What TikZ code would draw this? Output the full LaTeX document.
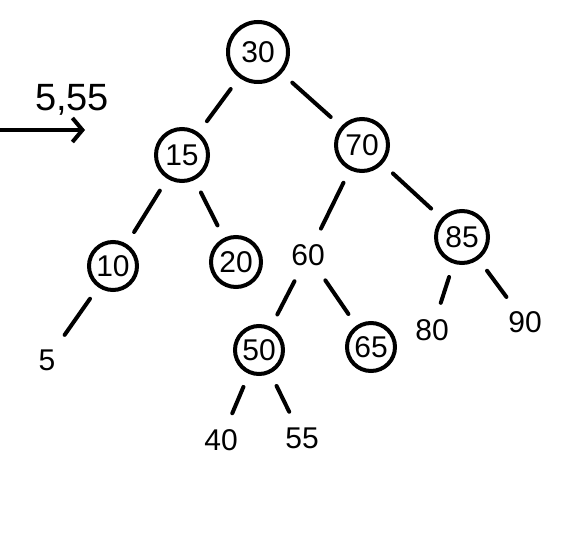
\documentclass[tikz,border=0pt]{standalone}
\usepackage{fontspec}
\setmainfont{Liberation Sans}
\usetikzlibrary{arrows.meta}
\begin{document}
\begin{tikzpicture}[x=1pt,y=-1pt,
  blk/.style={circle,draw,line width=4pt,minimum size=52pt,inner sep=0pt,font=\fontsize{30}{30}\selectfont},
  red/.style={inner sep=3pt,font=\fontsize{30}{30}\selectfont},
  edge/.style={line width=4pt,line cap=round,shorten <=14pt,shorten >=14pt}]
\useasboundingbox (0,0) rectangle (585,537);
\node[blk,minimum size=60pt] (n30) at (258,52) {30};
\node[blk] (n15) at (182,155) {15};
\node[blk] (n70) at (362,145) {70};
\node[blk,minimum size=48pt] (n10) at (113,266) {10};
\node[blk,minimum size=50pt] (n20) at (236,262) {20};
\node[red] (n60) at (308,255) {60};
\node[blk] (n85) at (462,237) {85};
\node[blk,minimum size=48pt] (n50) at (259,350) {50};
\node[blk,minimum size=48pt] (n65) at (371,347) {65};
\node[red] (n80) at (432,330) {80};
\node[red] (n90) at (525,322) {90};
\node[red] (n5) at (47,360) {5};
\node[red] (n40) at (221,440) {40};
\node[red] (n55) at (302,438) {55};
\node[font=\fontsize{38}{38}\selectfont] (ins) at (72,100) {5,55};
\coordinate (a0) at (0,130);
\coordinate (a1) at (85,130);
\draw[line width=4pt,-{Straight Barb[length=10pt,width=24pt]}] (a0) -- (a1);
\draw[edge] (n30) -- (n15);
\draw[edge] (n30) -- (n70);
\draw[edge] (n15) -- (n10);
\draw[edge] (n15) -- (n20);
\draw[edge] (n70) -- (n60);
\draw[edge] (n70) -- (n85);
\draw[edge] (n10) -- (n5);
\draw[edge] (n60) -- (n50);
\draw[edge] (n60) -- (n65);
\draw[edge] (n85) -- (n80);
\draw[edge] (n85) -- (n90);
\draw[edge] (n50) -- (n40);
\draw[edge] (n50) -- (n55);
\end{tikzpicture}
\end{document}
